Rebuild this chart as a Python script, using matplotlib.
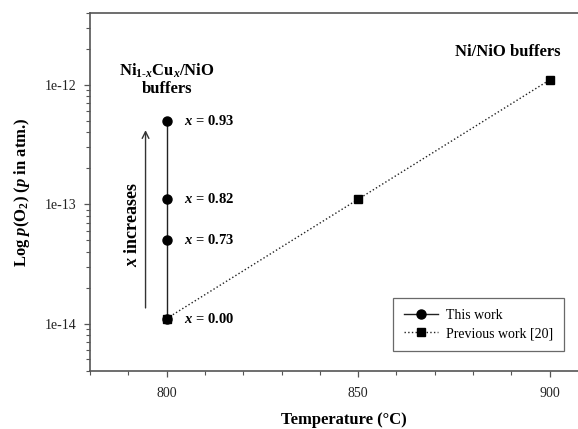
import matplotlib
matplotlib.use("Agg")
import matplotlib.pyplot as plt
from matplotlib.ticker import FixedLocator, LogLocator, NullFormatter, MultipleLocator

plt.rcParams["font.family"] = ["Liberation Serif", "DejaVu Serif"]
plt.rcParams["mathtext.fontset"] = "custom"
plt.rcParams["mathtext.rm"] = "Liberation Serif:bold"
plt.rcParams["mathtext.it"] = "Liberation Serif:italic:bold"
plt.rcParams["mathtext.bf"] = "Liberation Serif:bold"

# -----------------------------
# Data
# -----------------------------
this_temp = [800, 800, 800, 800]
this_po2 = [1.1e-14, 5.0e-14, 1.1e-13, 5.0e-13]
this_x = ["0.00", "0.73", "0.82", "0.93"]

prev_temp = [800, 850, 900]
prev_po2 = [1.1e-14, 1.1e-13, 1.1e-12]

x_ticks = [800, 850, 900]
y_ticks = [1e-14, 1e-13, 1e-12]
y_tick_labels = ["1e-14", "1e-13", "1e-12"]

SPINE = "#555555"

fig = plt.figure(figsize=(5.78, 4.29), dpi=100)
ax = fig.add_axes([90 / 578, 58 / 429, 498 / 578, 358 / 429])

ax.plot(this_temp, this_po2, "-o", color="#222222", lw=1.0, ms=6.5,
        mfc="black", mec="black", label="This work", zorder=3)
ax.plot(prev_temp, prev_po2, ":s", color="#222222", lw=1.0, ms=5.5,
        mfc="black", mec="black", label="Previous work [20]", zorder=4)

for t, p, xv in zip(this_temp, this_po2, this_x):
    ax.text(t + 4.5, p, f"$x$ = {xv}", fontsize=10.5, fontweight="bold",
            va="center", ha="left")

ax.text(800, 1.12e-12, "Ni$_{1\\text{-}x}$Cu$_x$/NiO\nbuffers", fontsize=12,
        fontweight="bold", ha="center", va="center", linespacing=1.1)
ax.text(902.8, 1.89e-12, "Ni/NiO buffers", fontsize=12, fontweight="bold",
        ha="right", va="center")

ax.annotate("", xy=(794.5, 4.4e-13), xytext=(794.5, 1.28e-14),
            arrowprops=dict(arrowstyle="->", color="#333333", lw=1.0,
                            mutation_scale=12))
ax.text(791.0, 6.8e-14, "$x$ increases", rotation=90, fontsize=13,
        fontweight="bold", ha="center", va="center")

ax.set_yscale("log")
ax.set_xlim(780, 910)
ax.set_ylim(4e-15, 4e-12)

ax.xaxis.set_major_locator(FixedLocator(x_ticks))
ax.xaxis.set_minor_locator(MultipleLocator(10))
ax.set_yticks(y_ticks)
ax.set_yticklabels(y_tick_labels)
ax.yaxis.set_minor_locator(LogLocator(base=10, subs=range(2, 10)))
ax.yaxis.set_minor_formatter(NullFormatter())

ax.tick_params(which="both", direction="out", color=SPINE, labelsize=10,
               labelcolor="#222222")
ax.tick_params(which="major", length=4.5, width=0.9)
ax.tick_params(which="minor", length=3, width=0.8)
ax.tick_params(axis="x", which="major", pad=7)
ax.tick_params(axis="y", which="major", pad=5)

for side in ["left", "bottom", "top"]:
    ax.spines[side].set_color(SPINE)
    ax.spines[side].set_linewidth(1.2)
ax.spines["right"].set_visible(False)

ax.set_xlabel("Temperature (°C)", fontsize=12, fontweight="bold")
ax.set_ylabel("Log $p$(O$_2$) ($p$ in atm.)", fontsize=12, fontweight="bold")
ax.xaxis.set_label_coords(0.51, -0.115)
ax.yaxis.set_label_coords(-0.116, 0.5)

leg = ax.legend(loc="lower right", bbox_to_anchor=(0.952, 0.055), fontsize=10,
                frameon=True, fancybox=False, borderpad=0.8, handlelength=2.4,
                labelspacing=0.4, handletextpad=0.6, borderaxespad=0)
leg.get_frame().set_edgecolor("#444444")
leg.get_frame().set_linewidth(0.9)

fig.savefig("out.png", dpi=100)
